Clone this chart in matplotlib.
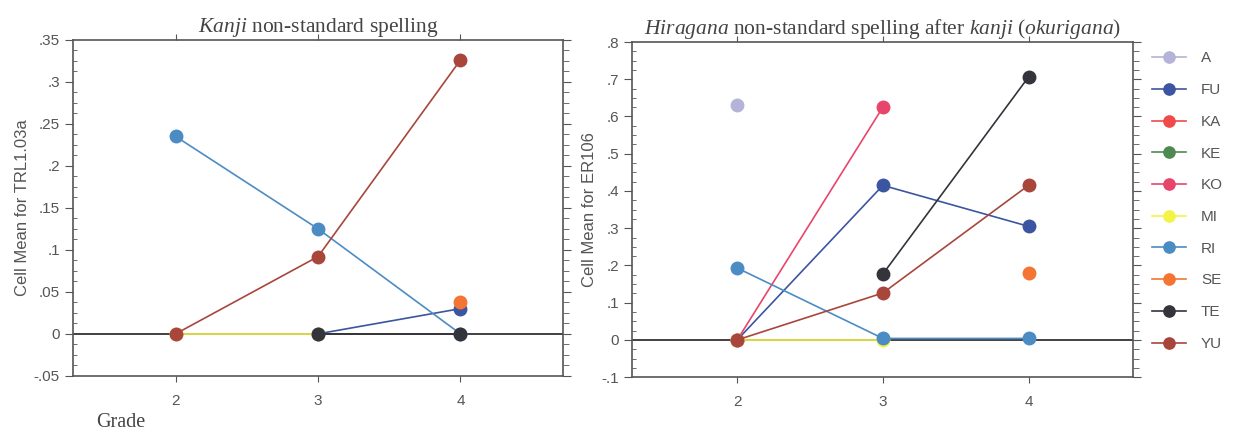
import numpy as np
import matplotlib
matplotlib.use('Agg')
import matplotlib.pyplot as plt
from matplotlib.ticker import AutoMinorLocator

plt.rcParams['mathtext.fontset'] = 'custom'
plt.rcParams['mathtext.rm'] = 'Liberation Serif'
plt.rcParams['mathtext.it'] = 'Liberation Serif:italic'

grades = [2, 3, 4]
series = ['A', 'FU', 'KA', 'KE', 'KO', 'MI', 'RI', 'SE', 'TE', 'YU']
colors = {
    'A': '#b4b4d8', 'FU': '#3c55a0', 'KA': '#f04a4a', 'KE': '#4e8a50',
    'KO': '#e8456c', 'MI': '#f4f448', 'RI': '#4c8cc4', 'SE': '#f47434',
    'TE': '#34343c', 'YU': '#a8463c',
}
nan = np.nan

# Kanji non-standard spelling (cell means by grade 2, 3, 4)
kanji = {
    'A':  [nan, nan, nan],
    'FU': [nan, 0.0, 0.030],
    'KA': [nan, nan, nan],
    'KE': [nan, nan, nan],
    'KO': [nan, nan, nan],
    'MI': [0.0, 0.0, nan],
    'RI': [0.235, 0.125, 0.0],
    'SE': [nan, nan, 0.038],
    'TE': [nan, 0.0, 0.0],
    'YU': [0.0, 0.092, 0.326],
}

# Hiragana non-standard spelling after kanji (okurigana)
hiragana = {
    'A':  [0.630, nan, nan],
    'FU': [0.0, 0.415, 0.305],
    'KA': [nan, nan, nan],
    'KE': [nan, nan, nan],
    'KO': [0.0, 0.625, nan],
    'MI': [0.0, 0.0, nan],
    'RI': [0.193, 0.004, 0.004],
    'SE': [nan, nan, 0.180],
    'TE': [nan, 0.177, 0.706],
    'YU': [0.0, 0.126, 0.415],
}

kanji_ticks = [-0.05, 0, 0.05, 0.1, 0.15, 0.2, 0.25, 0.3, 0.35]
kanji_ticklabels = ['-.05', '0', '.05', '.1', '.15', '.2', '.25', '.3', '.35']
hira_ticks = [-0.1, 0, 0.1, 0.2, 0.3, 0.4, 0.5, 0.6, 0.7, 0.8]
hira_ticklabels = ['-.1', '0', '.1', '.2', '.3', '.4', '.5', '.6', '.7', '.8']

grey = '#555555'
sans = 'Liberation Sans'
serif = 'Liberation Serif'

fig = plt.figure(figsize=(12.4, 4.33), dpi=100)
ax1 = fig.add_axes([0.059, 0.132, 0.395, 0.776])
ax2 = fig.add_axes([0.510, 0.129, 0.404, 0.774])


def draw_panel(ax, data, ticks, ticklabels, ylabel, title):
    ax.axhline(0, color='#333333', lw=1.3, zorder=1)
    for name in series:
        ax.plot(grades, data[name], color=colors[name], lw=1.2, marker='o',
                ms=9, mec=colors[name], label=name, zorder=3)
    ax.set_xlim(1.28, 4.72)
    ax.set_ylim(ticks[0], ticks[-1])
    ax.set_xticks(grades)
    ax.set_xticklabels([str(g) for g in grades])
    ax.set_yticks(ticks)
    ax.set_yticklabels(ticklabels)
    ax.yaxis.set_minor_locator(AutoMinorLocator(4))
    ax.tick_params(axis='x', which='major', direction='out', top=True,
                   length=4, pad=9, colors=grey, labelsize=11)
    ax.tick_params(axis='y', which='major', direction='out', length=6,
                   colors=grey, labelsize=11)
    ax.tick_params(axis='y', which='minor', direction='in', length=3,
                   color=grey)
    for lab in ax.get_xticklabels() + ax.get_yticklabels():
        lab.set_fontfamily(sans)
    for sp in ax.spines.values():
        sp.set_color('#555555')
        sp.set_linewidth(1.2)
    ax.set_ylabel(ylabel, fontfamily=sans, fontsize=12, color=grey,
                  labelpad=3)
    ax.set_title(title, fontfamily=serif, fontsize=15.5, color='#444444',
                 pad=6)
    # right-hand ticks point outward
    tw = ax.twinx()
    tw.set_ylim(ax.get_ylim())
    tw.set_yticks(ticks)
    tw.yaxis.set_minor_locator(AutoMinorLocator(4))
    tw.tick_params(axis='y', which='major', direction='out', length=6,
                   color=grey, labelright=False)
    tw.tick_params(axis='y', which='minor', direction='out', length=4,
                   color=grey)
    for sp in tw.spines.values():
        sp.set_visible(False)
    return ax


draw_panel(ax1, kanji, kanji_ticks, kanji_ticklabels,
           'Cell Mean for TRL1.03a', r'$\mathit{Kanji}$ non-standard spelling')
draw_panel(ax2, hiragana, hira_ticks, hira_ticklabels,
           'Cell Mean for ER106',
           r'$\mathit{Hiragana}$ non-standard spelling after $\mathit{kanji}$ ($\mathit{okurigana}$)')

handles, labels = ax2.get_legend_handles_labels()
leg = fig.legend(handles, labels, loc='upper left',
                 bbox_to_anchor=(0.918, 0.913), frameon=False,
                 prop={'family': sans, 'size': 11}, labelspacing=1.16,
                 handlelength=2.2, handletextpad=1.0, markerscale=0.9)
for t in leg.get_texts():
    t.set_color(grey)

fig.text(0.097, 0.015, 'Grade', fontfamily=serif, fontsize=14.5,
         color='#444444', ha='center')

fig.savefig('out.png', dpi=100)
